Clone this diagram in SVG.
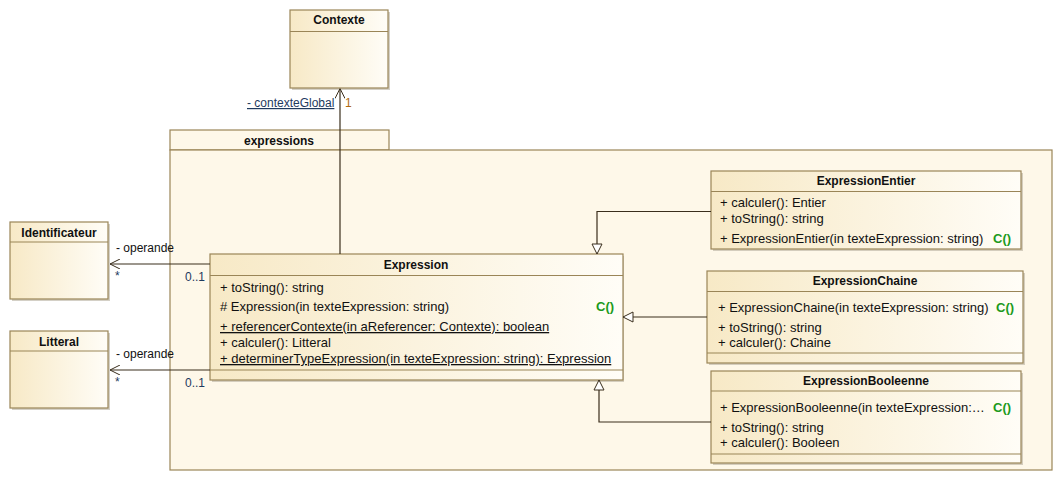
<svg xmlns="http://www.w3.org/2000/svg" width="1063" height="481" viewBox="0 0 1063 481">
<defs>
<linearGradient id="cls" x1="0" y1="0" x2="1" y2="0">
<stop offset="0" stop-color="#f7e9c6"/>
<stop offset="1" stop-color="#fffdf7"/>
</linearGradient>
<marker id="open" viewBox="0 0 10 10" refX="10" refY="5" markerWidth="10" markerHeight="10" markerUnits="userSpaceOnUse" orient="auto">
<path d="M0,0 L10,5 L0,10" fill="none" stroke="#3a2e1c" stroke-width="1"/>
</marker>
<marker id="tri" viewBox="0 0 12 12" refX="11" refY="6" markerWidth="12" markerHeight="12" markerUnits="userSpaceOnUse" orient="auto">
<path d="M1,1 L11,6 L1,11 Z" fill="#ffffff" stroke="#3a2e1c" stroke-width="1"/>
</marker>
</defs>
<style>
text{font-family:"Liberation Sans",Arial,sans-serif;font-size:12px;fill:#111}
.t{font-weight:bold;text-anchor:middle}
.mb{font-size:13px}
.box{fill:url(#cls);stroke:#9a8557;stroke-width:1.2}
.sh{fill:#b8b0a0;opacity:0.6}
.div{stroke:#9a8557;stroke-width:1.2}
.ln{stroke:#3a2e1c;stroke-width:1.2;fill:none}
.u{text-decoration:underline}
.c{fill:#1c9a1c;font-weight:bold;font-size:13px}
.m{fill:#1e3a5e}
.o{fill:#b06a10}
</style>
<rect width="1063" height="481" fill="#ffffff"/>

<g id="pkg-expressions">
<rect x="170" y="130" width="219" height="20" fill="#fef8e9" stroke="#9a8557" stroke-width="1.2"/>
<rect x="170" y="150" width="882" height="320" fill="#fef8e9" stroke="#9a8557" stroke-width="1.2"/>
<text class="t" x="279" y="145">expressions</text>
</g>

<g id="Contexte">
<rect class="sh" x="292" y="12" width="98" height="78"/>
<rect class="box" x="290" y="10" width="98" height="78"/>
<line class="div" x1="290" y1="31.5" x2="388" y2="31.5"/>
<text class="t" x="339" y="24">Contexte</text>
</g>

<g id="Identificateur">
<rect class="sh" x="12" y="224" width="98" height="77"/>
<rect class="box" x="10" y="222" width="98" height="77"/>
<line class="div" x1="10" y1="242" x2="108" y2="242"/>
<text class="t" x="59" y="237">Identificateur</text>
</g>

<g id="Litteral">
<rect class="sh" x="12" y="333" width="98" height="77"/>
<rect class="box" x="10" y="331" width="98" height="77"/>
<line class="div" x1="10" y1="351" x2="108" y2="351"/>
<text class="t" x="59" y="346">Litteral</text>
</g>

<g id="Expression">
<rect class="sh" x="212" y="256" width="412" height="126"/>
<rect class="box" x="210" y="254" width="413" height="126"/>
<line class="div" x1="210" y1="275.5" x2="623" y2="275.5"/>
<line class="div" x1="210" y1="370" x2="623" y2="370"/>
<text class="t" x="416" y="268.5">Expression</text>
<text class="mb" x="220" y="292">+ toString(): string</text>
<text class="mb" x="220" y="311"># Expression(in texteExpression: string)</text>
<text class="c" x="596" y="311">C()</text>
<text class="mb u" x="220" y="331">+ referencerContexte(in aReferencer: Contexte): boolean</text>
<text class="mb" x="220" y="347">+ calculer(): Litteral</text>
<text class="mb u" x="220" y="363">+ determinerTypeExpression(in texteExpression: string): Expression</text>
</g>

<g id="ExpressionEntier">
<rect class="sh" x="713" y="173" width="310" height="78"/>
<rect class="box" x="711" y="171" width="310" height="78"/>
<line class="div" x1="711" y1="191.5" x2="1021" y2="191.5"/>
<text class="t" x="866" y="185">ExpressionEntier</text>
<text class="mb" x="720" y="207">+ calculer(): Entier</text>
<text class="mb" x="720" y="223">+ toString(): string</text>
<text class="mb" x="720" y="243">+ ExpressionEntier(in texteExpression: string)</text>
<text class="c" x="993" y="243">C()</text>
</g>

<g id="ExpressionChaine">
<rect class="sh" x="709" y="273" width="316" height="92"/>
<rect class="box" x="707" y="271" width="316" height="92"/>
<line class="div" x1="707" y1="291.5" x2="1023" y2="291.5"/>
<line class="div" x1="707" y1="353" x2="1023" y2="353"/>
<text class="t" x="865" y="285">ExpressionChaine</text>
<text class="mb" x="718" y="312">+ ExpressionChaine(in texteExpression: string)</text>
<text class="c" x="996" y="312">C()</text>
<text class="mb" x="718" y="332">+ toString(): string</text>
<text class="mb" x="718" y="347">+ calculer(): Chaine</text>
</g>

<g id="ExpressionBooleenne">
<rect class="sh" x="713" y="373" width="310" height="92"/>
<rect class="box" x="711" y="371" width="310" height="92"/>
<line class="div" x1="711" y1="391" x2="1021" y2="391"/>
<line class="div" x1="711" y1="454" x2="1021" y2="454"/>
<text class="t" x="866" y="385">ExpressionBooleenne</text>
<text class="mb" x="720" y="412">+ ExpressionBooleenne(in texteExpression:…</text>
<text class="c" x="993" y="412">C()</text>
<text class="mb" x="720" y="432">+ toString(): string</text>
<text class="mb" x="720" y="447">+ calculer(): Booleen</text>
</g>

<g id="connectors">
<path class="ln" d="M340,254 L340,88.5" marker-end="url(#open)"/>
<text class="m u" x="247" y="107">- contexteGlobal</text>
<text class="o" x="345" y="107">1</text>

<path class="ln" d="M210,264 L110,264" marker-end="url(#open)"/>
<text x="116" y="252">- operande</text>
<text class="m" x="115" y="280">*</text>
<text class="m" x="185" y="281">0..1</text>

<path class="ln" d="M210,370 L110,370" marker-end="url(#open)"/>
<text x="116" y="358">- operande</text>
<text class="m" x="115" y="386">*</text>
<text class="m" x="185" y="387">0..1</text>

<path class="ln" d="M711,211.5 L597,211.5 L597,254" marker-end="url(#tri)"/>
<path class="ln" d="M707,317 L623,317" marker-end="url(#tri)"/>
<path class="ln" d="M711,422 L599,422 L599,380" marker-end="url(#tri)"/>
</g>
</svg>
